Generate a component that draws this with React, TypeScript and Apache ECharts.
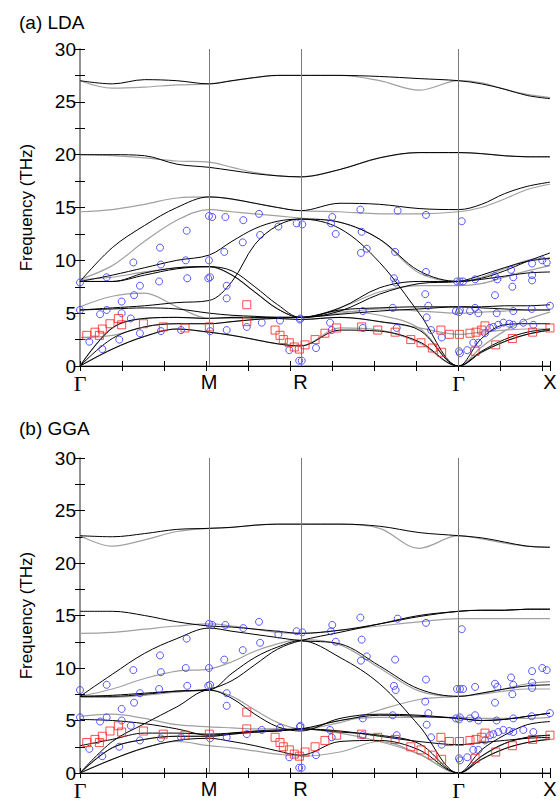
import React, { useEffect, useRef } from "react";
import * as echarts from "echarts";

// High-symmetry path (units of 2π/a): Γ – M – R – Γ – X
const HS_POS = [0, 0.7071, 1.2071, 2.0731, 2.5731];
const HS_LABELS = ["Γ", "M", "R", "Γ", "X"];
const SEG_FRACTIONS = [0, 0.25, 0.5, 0.75, 1];
const Y_TICKS = [0, 5, 10, 15, 20, 25, 30];

// Bands: 17 values each -> Γ,.25,.5,.75,M | .25,.5,.75,R | .25,.5,.75,Γ | .25,.5,.75,X
const LDA_BLACK = [
  [0, 1.6, 2.8, 3.5, 3.2, 2.9, 2.5, 2.1, 1.9, 3.4, 3.3, 2.3, 0, 1.3, 2.3, 3.0, 3.4],
  [0, 2.6, 3.7, 4.0, 4.0, 4.2, 4.4, 4.5, 4.4, 4.6, 4.2, 3.4, 0, 1.4, 2.5, 3.2, 3.5],
  [0, 3.6, 4.5, 4.6, 4.5, 4.6, 4.6, 4.6, 4.6, 5.3, 5.5, 5.6, 5.6, 5.6, 5.7, 5.7, 5.8],
  [5.3, 5.5, 5.7, 6.0, 6.2, 8.0, 11.5, 13.3, 13.9, 13.0, 9.8, 5.0, 0, 2.6, 3.9, 4.0, 4.0],
  [5.3, 5.4, 5.5, 5.4, 5.0, 4.8, 4.7, 4.6, 4.6, 4.9, 5.2, 5.4, 5.6, 5.5, 5.4, 5.3, 5.3],
  [8.0, 8.0, 8.6, 9.2, 9.4, 8.6, 7.0, 5.4, 4.6, 5.5, 7.4, 8.0, 8.0, 8.2, 8.5, 8.8, 8.9],
  [8.0, 8.6, 9.3, 10.0, 10.5, 11.8, 13.0, 13.7, 13.9, 13.6, 12.0, 9.0, 8.0, 8.3, 9.0, 9.9, 10.7],
  [8.0, 11.2, 13.3, 15.0, 16.0, 15.8, 15.4, 15.0, 14.7, 15.4, 15.3, 14.9, 14.8, 15.3, 16.3, 17.0, 17.4],
  [8.0, 8.0, 8.8, 9.3, 9.4, 9.0, 7.5, 5.8, 4.6, 5.2, 6.8, 7.8, 8.0, 8.6, 9.3, 9.9, 10.2],
  [20.0, 20.0, 19.9, 19.1, 18.8, 18.5, 18.2, 18.0, 17.9, 18.6, 19.7, 20.2, 20.2, 20.1, 19.9, 19.8, 19.8],
  [27.0, 26.7, 27.1, 27.0, 26.7, 27.0, 27.3, 27.5, 27.5, 27.5, 27.4, 27.2, 27.0, 26.7, 26.2, 25.6, 25.3],
];
const LDA_GRAY = [
  [0, 1.6, 2.8, 3.5, 3.2, 2.9, 2.5, 2.1, 1.9, 3.6, 3.4, 2.2, 0, 1.3, 2.3, 3.0, 3.4],
  [2.7, 2.9, 3.7, 4.0, 4.0, 4.2, 4.4, 4.5, 4.4, 4.6, 4.2, 3.6, 3.0, 3.2, 3.4, 3.5, 3.5],
  [0, 3.6, 4.5, 4.6, 4.5, 4.6, 4.6, 4.6, 4.6, 5.2, 4.8, 3.6, 0, 1.8, 3.3, 4.4, 5.1],
  [5.6, 6.6, 6.9, 5.6, 4.5, 4.5, 4.5, 4.6, 4.6, 5.0, 5.4, 5.2, 5.0, 5.1, 5.2, 5.3, 5.3],
  [8.2, 8.4, 8.9, 9.3, 9.4, 8.6, 7.0, 5.4, 4.6, 5.5, 7.0, 7.6, 7.6, 7.8, 8.4, 9.0, 9.5],
  [8.2, 9.5, 11.8, 13.8, 14.8, 14.6, 14.4, 14.2, 14.0, 13.6, 12.0, 8.8, 8.0, 8.4, 9.2, 10.0, 10.2],
  [14.6, 14.8, 15.3, 15.9, 16.0, 15.8, 15.4, 15.0, 14.7, 14.6, 14.4, 14.4, 14.6, 15.0, 15.8, 16.7, 17.2],
  [20.0, 19.9, 19.7, 19.4, 19.3, 18.8, 18.3, 18.0, 17.9, 18.6, 19.7, 20.2, 20.2, 20.1, 19.9, 19.8, 19.8],
  [27.0, 26.3, 26.4, 26.6, 26.7, 27.0, 27.3, 27.5, 27.5, 27.5, 27.0, 26.1, 27.0, 26.8, 26.2, 25.7, 25.4],
];
const GGA_BLACK = [
  [0, 1.3, 2.4, 3.1, 3.3, 3.0, 2.6, 2.1, 1.7, 3.0, 3.1, 2.2, 0, 1.3, 2.3, 2.9, 3.2],
  [0, 2.4, 3.2, 3.5, 3.5, 3.7, 3.9, 4.0, 4.2, 3.9, 3.6, 2.8, 0, 1.6, 2.8, 3.4, 3.6],
  [0, 3.0, 4.7, 6.3, 7.9, 7.1, 5.6, 4.4, 4.0, 5.2, 5.6, 5.5, 5.2, 5.0, 5.1, 5.4, 5.7],
  [2.6, 3.2, 3.8, 3.8, 3.7, 3.8, 3.9, 4.0, 4.2, 4.0, 3.5, 3.0, 2.7, 2.9, 3.1, 3.3, 3.4],
  [5.1, 5.0, 4.7, 4.2, 3.6, 3.8, 4.0, 4.1, 4.2, 5.0, 5.5, 5.4, 5.2, 5.0, 5.1, 5.4, 5.7],
  [7.3, 7.4, 7.6, 7.8, 7.9, 9.5, 11.0, 12.0, 12.6, 11.0, 8.5, 4.5, 0, 2.2, 3.6, 4.6, 4.9],
  [7.3, 9.4, 11.4, 12.8, 13.8, 13.5, 13.2, 12.9, 12.6, 12.3, 10.2, 8.0, 7.3, 7.6, 8.0, 8.3, 8.4],
  [7.3, 7.3, 7.5, 7.8, 8.0, 8.8, 10.3, 11.8, 12.6, 13.4, 14.2, 15.0, 15.4, 15.5, 15.5, 15.6, 15.6],
  [15.4, 15.4, 15.0, 14.4, 14.0, 13.9, 13.7, 13.5, 13.3, 13.6, 14.2, 14.9, 15.4, 15.5, 15.5, 15.6, 15.6],
  [22.6, 22.5, 22.8, 23.2, 23.3, 23.4, 23.6, 23.7, 23.7, 23.7, 23.5, 22.9, 22.6, 22.4, 22.0, 21.6, 21.5],
];
const GGA_GRAY = [
  [0, 1.3, 2.4, 3.0, 2.6, 2.4, 2.1, 1.8, 1.6, 2.0, 3.0, 1.8, 0, 1.3, 2.3, 2.9, 3.3],
  [0, 2.4, 3.2, 3.5, 3.5, 3.7, 3.9, 4.0, 4.2, 3.8, 3.0, 1.8, 0, 1.6, 2.8, 3.4, 3.6],
  [5.4, 5.6, 5.2, 4.6, 4.4, 4.3, 4.2, 4.2, 4.2, 5.0, 5.3, 5.3, 5.3, 5.2, 5.2, 5.2, 5.3],
  [7.2, 7.2, 7.4, 7.7, 7.9, 7.3, 6.0, 4.8, 4.2, 4.8, 6.0, 7.0, 7.3, 7.5, 7.8, 8.0, 8.0],
  [7.3, 8.0, 9.0, 9.7, 9.9, 10.6, 11.6, 12.3, 12.7, 12.2, 10.0, 7.8, 7.3, 7.6, 8.0, 8.5, 8.7],
  [13.3, 13.4, 13.7, 14.0, 14.2, 14.0, 13.7, 13.4, 13.3, 13.6, 14.0, 14.4, 14.7, 14.7, 14.7, 14.7, 14.7],
  [22.6, 21.6, 22.2, 23.0, 23.3, 23.4, 23.6, 23.7, 23.7, 23.7, 23.3, 21.4, 22.6, 22.3, 21.9, 21.6, 21.5],
];

// Experimental points [k, THz]
const EXP_CIRCLES = [
  [0.0, 7.9], [0.146, 8.4], [0.228, 6.1], [0.292, 9.8], [0.296, 6.7], [0.328, 7.6],
  [0.433, 8.0], [0.438, 11.2], [0.443, 9.6], [0.584, 12.8], [0.579, 10.0], [0.587, 8.3],
  [0.706, 14.2], [0.724, 14.1], [0.706, 10.0], [0.712, 8.4], [0.702, 8.3], [0.796, 14.1],
  [0.79, 10.8], [0.803, 7.6], [0.803, 6.4], [0.894, 13.8], [0.891, 11.7], [0.98, 14.4],
  [0.986, 12.4], [1.086, 13.2], [1.186, 13.5], [1.217, 13.4], [1.381, 14.1], [1.374, 13.5],
  [1.4, 12.5], [1.535, 14.8], [1.542, 12.7], [1.57, 11.1], [1.538, 10.7], [1.739, 14.7],
  [1.725, 10.8], [1.894, 14.3], [1.894, 8.9], [1.719, 8.3], [1.728, 7.9], [1.89, 6.8],
  [1.907, 5.7], [2.09, 13.7], [2.064, 8.0], [2.08, 8.0], [2.097, 8.0], [2.163, 8.2],
  [2.272, 8.5], [2.285, 8.2], [2.272, 6.7], [2.36, 9.1], [2.372, 8.4], [2.367, 7.5],
  [2.475, 9.7], [2.475, 8.6], [2.475, 8.1], [2.531, 10.0], [2.555, 9.8], [2.573, 5.7],
  [1.712, 5.5], [2.163, 5.5], [2.473, 5.4],
  [0.0, 5.3], [0.051, 2.3], [0.11, 4.9], [0.146, 5.3], [0.122, 1.6], [0.228, 5.0],
  [0.278, 4.5], [0.215, 2.5], [0.328, 3.1], [0.443, 3.3], [0.553, 3.4], [0.712, 3.3],
  [0.803, 3.4], [0.913, 3.7], [0.995, 4.1], [1.095, 4.3], [1.204, 4.4], [1.207, 4.5],
  [1.146, 1.5], [1.2, 0.5], [1.214, 0.5], [1.292, 1.7], [1.369, 4.1], [1.378, 3.4],
  [1.548, 5.2], [1.548, 3.6], [1.734, 3.6], [1.898, 4.6], [1.922, 3.4], [1.98, 2.7],
  [2.058, 5.2], [2.075, 5.1], [2.08, 5.3], [2.075, 1.4], [2.08, 1.2], [2.12, 1.5],
  [2.135, 5.2], [2.181, 5.0], [2.153, 2.2], [2.181, 2.2], [2.217, 3.1], [2.245, 3.6],
  [2.263, 3.7], [2.29, 3.9], [2.318, 4.1], [2.35, 4.0], [2.372, 3.9], [2.427, 4.1],
  [2.482, 3.9], [2.281, 5.0], [2.372, 5.2],
];
const EXP_SQUARES = [
  [0.037, 2.9], [0.082, 3.2], [0.106, 2.9], [0.122, 3.5], [0.164, 4.0], [0.21, 4.5],
  [0.228, 3.9], [0.347, 4.0], [0.456, 3.7], [0.575, 3.6], [0.708, 3.7], [0.913, 5.8],
  [0.913, 4.2], [1.068, 3.4], [1.095, 2.9], [1.113, 2.5], [1.146, 2.2], [1.173, 1.8],
  [1.201, 1.6], [1.232, 2.0], [1.287, 2.5], [1.341, 3.1], [1.405, 3.6], [1.542, 3.7],
  [1.63, 3.4], [1.725, 3.2], [1.811, 2.5], [1.867, 2.2], [1.929, 1.7], [1.98, 1.3],
  [1.976, 3.4], [2.022, 3.0], [2.077, 3.0], [2.135, 3.1], [2.168, 3.2], [2.199, 3.4],
  [2.217, 3.8], [2.163, 1.4], [2.276, 2.0], [2.367, 2.6], [2.478, 3.2], [2.573, 3.6],
];

const FONT = "'Liberation Sans', Arial, Helvetica, sans-serif";
const AXIS_GRAY = "#8c8c8c";

function buildKPath(): number[] {
  const out: number[] = [];
  for (let s = 0; s < HS_POS.length - 1; s++) {
    const a = HS_POS[s];
    const b = HS_POS[s + 1];
    SEG_FRACTIONS.forEach((fr, j) => {
      if (s > 0 && j === 0) return;
      out.push(a + fr * (b - a));
    });
  }
  return out;
}

export default function App() {
  const ref = useRef<HTMLDivElement>(null);

  useEffect(() => {
    if (!ref.current) return;
    const chart = echarts.init(ref.current, undefined, { renderer: "svg" });
    const KP = buildKPath();
    const panels = [
      { top: 49, black: LDA_BLACK, gray: LDA_GRAY },
      { top: 458, black: GGA_BLACK, gray: GGA_GRAY },
    ];
    const grids: any[] = [];
    const xAxes: any[] = [];
    const yAxes: any[] = [];
    const series: any[] = [];
    const hsLabel = (v: number) => {
      let best = 0;
      HS_POS.forEach((p, i) => {
        if (Math.abs(p - v) < Math.abs(HS_POS[best] - v)) best = i;
      });
      const t = HS_LABELS[best];
      return t === "Γ" ? "{g|Γ}" : t;
    };
    panels.forEach((p, gi) => {
      grids.push({ left: 80, top: p.top, width: 470, height: gi === 0 ? 317 : 315 });
      const xBase = {
        type: "value",
        gridIndex: gi,
        min: 0,
        max: HS_POS[HS_POS.length - 1],
        interval: 0.23,
        splitLine: { show: false },
        axisTick: { inside: true, length: 5, lineStyle: { color: "#000", width: 1 } },
      };
      xAxes.push({
        ...xBase,
        position: "bottom",
        axisLine: { lineStyle: { color: AXIS_GRAY, width: 1.5 } },
        axisLabel: {
          customValues: HS_POS,
          formatter: hsLabel,
          color: "#000",
          fontFamily: FONT,
          fontSize: 20,
          margin: 6,
          rich: { g: { fontFamily: "'Liberation Serif', 'DejaVu Serif', serif", fontSize: 22, color: "#000" } },
        },
      });
      xAxes.push({
        ...xBase,
        position: "top",
        axisLine: { lineStyle: { color: "#000", width: 1 } },
        axisLabel: { show: false },
      });
      const yBase = {
        type: "value",
        gridIndex: gi,
        min: 0,
        max: 30,
        interval: 2.5,
        splitLine: { show: false },
        axisTick: { inside: true, length: 5, lineStyle: { color: "#000", width: 1 } },
        axisLine: { show: true, lineStyle: { color: AXIS_GRAY, width: 1.5 } },
      };
      yAxes.push({
        ...yBase,
        position: "left",
        name: "Frequency (THz)",
        nameLocation: "middle",
        nameGap: 45,
        nameTextStyle: { fontFamily: FONT, fontSize: 17, color: "#000" },
        axisLabel: {
          formatter: (v: number) => (Y_TICKS.includes(v) ? String(v) : ""),
          color: "#000",
          fontFamily: FONT,
          fontSize: 19,
          margin: 4,
        },
      });
      yAxes.push({
        ...yBase,
        position: "right",
        axisLabel: { show: false },
      });
      const xi = gi * 2;
      const yi = gi * 2;
      series.push({
        type: "line",
        xAxisIndex: xi,
        yAxisIndex: yi,
        data: [],
        silent: true,
        markLine: {
          symbol: "none",
          silent: true,
          label: { show: false },
          lineStyle: { color: "#7a7a7a", width: 1, type: "solid" },
          data: HS_POS.slice(1, 4).map((v) => ({ xAxis: v })),
        },
      });
      p.gray.forEach((b) =>
        series.push({
          type: "line",
          xAxisIndex: xi,
          yAxisIndex: yi,
          data: b.map((f, i) => [KP[i], f]),
          showSymbol: false,
          symbol: "none",
          smooth: 0.35,
          silent: true,
          lineStyle: { color: "#a0a0a0", width: 1.2 },
          z: 2,
        })
      );
      p.black.forEach((b) =>
        series.push({
          type: "line",
          xAxisIndex: xi,
          yAxisIndex: yi,
          data: b.map((f, i) => [KP[i], f]),
          showSymbol: false,
          symbol: "none",
          smooth: 0.35,
          silent: true,
          lineStyle: { color: "#000", width: 1 },
          z: 3,
        })
      );
      series.push({
        type: "scatter",
        xAxisIndex: xi,
        yAxisIndex: yi,
        data: EXP_CIRCLES,
        symbol: "circle",
        symbolSize: 7,
        silent: true,
        itemStyle: { color: "rgba(0,0,0,0)", borderColor: "#3030ff", borderWidth: 1 },
        z: 4,
      });
      series.push({
        type: "scatter",
        xAxisIndex: xi,
        yAxisIndex: yi,
        data: EXP_SQUARES,
        symbol: "rect",
        symbolSize: 8,
        silent: true,
        itemStyle: { color: "rgba(0,0,0,0)", borderColor: "#ff2020", borderWidth: 1 },
        z: 5,
      });
    });

    chart.setOption({
      animation: false,
      backgroundColor: "#fff",
      title: [
        { text: "(a) LDA", left: 14, top: 8, textStyle: { fontFamily: FONT, fontSize: 19, fontWeight: "normal", color: "#000" } },
        { text: "(b) GGA", left: 14, top: 414, textStyle: { fontFamily: FONT, fontSize: 19, fontWeight: "normal", color: "#000" } },
      ],
      grid: grids,
      xAxis: xAxes,
      yAxis: yAxes,
      series,
    });
    return () => chart.dispose();
  }, []);

  return <div ref={ref} style={{ width: 560, height: 801, position: "absolute", left: 0, top: 0 }} />;
}
